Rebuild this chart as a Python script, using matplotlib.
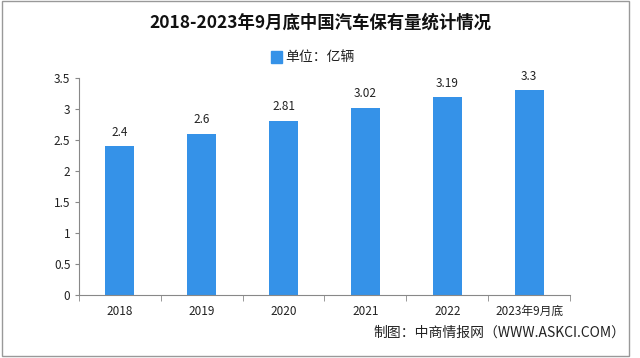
import numpy as np
import matplotlib.pyplot as plt
from matplotlib.patches import Rectangle

plt.rcParams['font.family'] = ['Noto Sans CJK SC', 'DejaVu Sans']

categories = ['2018', '2019', '2020', '2021', '2022', '2023年9月底']
values = [2.4, 2.6, 2.81, 3.02, 3.19, 3.3]
value_labels = ['2.4', '2.6', '2.81', '3.02', '3.19', '3.3']
yticks = [0, 0.5, 1, 1.5, 2, 2.5, 3, 3.5]
ytick_labels = ['0', '0.5', '1', '1.5', '2', '2.5', '3', '3.5']

bar_color = '#3592e8'

fig = plt.figure(figsize=(6.4, 3.58), dpi=100)
ax = fig.add_axes([0.123, 0.176, 0.768, 0.606])

x = np.arange(len(categories))
bars = ax.bar(x, values, width=0.36, color=bar_color, zorder=2)
for xi, v, lab in zip(x, values, value_labels):
    ax.text(xi, v + 0.12, lab, ha='center', va='bottom', fontsize=8.5, color='#222222')

ax.set_xlim(-0.5, len(categories) - 0.5)
ax.set_ylim(0, 3.5)
ax.set_yticks(yticks)
ax.set_yticklabels(ytick_labels, fontsize=8.5, color='#222222')
ax.set_xticks(x)
ax.set_xticklabels(categories, fontsize=8.5, color='#222222')
ax.tick_params(axis='x', length=0, pad=7)
ax.set_xticks(np.arange(-0.5, len(categories)), minor=True)
ax.tick_params(axis='x', which='minor', length=4, color='#888888')
ax.tick_params(axis='y', length=3, color='#888888', pad=3)

for s in ['top', 'right']:
    ax.spines[s].set_visible(False)
for s in ['left', 'bottom']:
    ax.spines[s].set_color('#888888')
    ax.spines[s].set_linewidth(0.8)

fig.text(0.5, 0.938, '2018-2023年9月底中国汽车保有量统计情况', ha='center', va='center',
         fontsize=12.5, fontweight='bold', color='#111111')

# legend
fig.patches.append(Rectangle((0.424, 0.825), 0.016, 0.033, transform=fig.transFigure,
                             color=bar_color))
fig.text(0.445, 0.840, '单位：亿辆', ha='left', va='center', fontsize=10, color='#222222')

fig.text(0.978, 0.072, '制图：中商情报网（WWW.ASKCI.COM）', ha='right', va='center',
         fontsize=10, color='#222222')

# outer frame
fig.patches.append(Rectangle((0.003, 0.006), 0.98, 0.99, transform=fig.transFigure,
                             fill=False, edgecolor='#999999', linewidth=1))

fig.savefig('out.png', dpi=100)
